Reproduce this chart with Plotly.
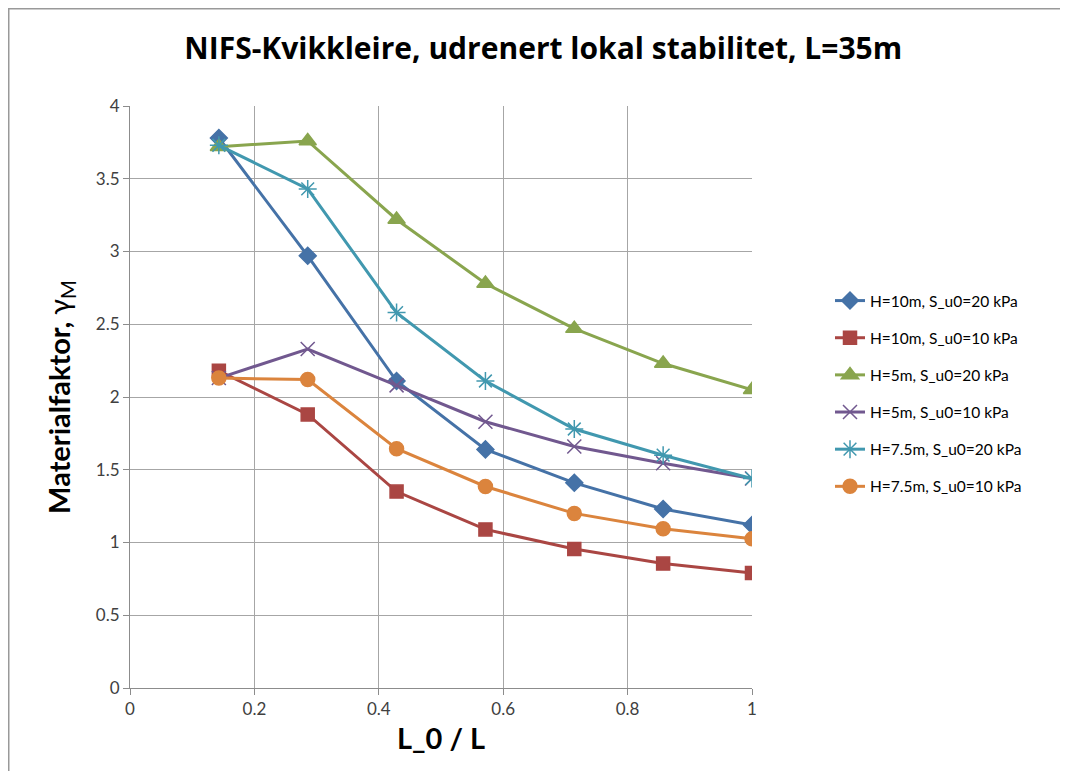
import plotly.graph_objects as go

x_vals = [1/7, 2/7, 3/7, 4/7, 5/7, 6/7, 1.0]

names = [
    "H=10m, S_u0=20 kPa",
    "H=10m, S_u0=10 kPa",
    "H=5m, S_u0=20 kPa",
    "H=5m, S_u0=10 kPa",
    "H=7.5m, S_u0=20 kPa",
    "H=7.5m, S_u0=10 kPa",
]

h10_s20 = [3.78, 2.97, 2.11, 1.64, 1.41, 1.23, 1.12]
h10_s10 = [2.18, 1.88, 1.35, 1.09, 0.955, 0.855, 0.79]
h5_s20 = [3.72, 3.76, 3.22, 2.78, 2.47, 2.23, 2.05]
h5_s10 = [2.13, 2.33, 2.08, 1.83, 1.66, 1.545, 1.44]
h75_s20 = [3.73, 3.43, 2.58, 2.11, 1.78, 1.60, 1.44]
h75_s10 = [2.13, 2.12, 1.645, 1.385, 1.20, 1.095, 1.025]

series = [h10_s20, h10_s10, h5_s20, h5_s10, h75_s20, h75_s10]
colors = ["#4572A7", "#AA4643", "#89A54E", "#71588F", "#4198AF", "#DB843D"]
symbols = ["diamond", "square", "triangle-up", "x-thin-open", "asterisk-open", "circle"]
sizes = [13, 13, 15, 14, 15, 14]

fig = go.Figure()
for i, (nm, ys) in enumerate(zip(names, series)):
    fig.add_trace(go.Scatter(
        x=x_vals, y=ys, name=nm, mode="lines+markers",
        legendgroup=str(i),
        line=dict(color=colors[i], width=3),
        marker=dict(symbol=symbols[i], size=sizes[i], color=colors[i],
                    line=dict(color=colors[i], width=1.5)),
    ))

font_family = "Lato, 'Open Sans', sans-serif"

# page body has an 8px margin, so the figure is sized/offset to compensate
L, T, PW, PH = 122, 98, 622, 582
W, H = 1060, 763

fig.update_layout(
    width=W, height=H,
    paper_bgcolor="white", plot_bgcolor="white",
    margin=dict(l=L, r=W - L - PW, t=T, b=H - T - PH),
    font=dict(family=font_family, color="#404040", size=14),
    title=dict(text="<b>NIFS-Kvikkleire, udrenert lokal stabilitet, L=35m</b>",
               x=0.505, xanchor="center", y=(H - 40) / H, yanchor="middle",
               font=dict(size=30, color="black", family="'Open Sans', sans-serif")),
    xaxis=dict(range=[0, 1], dtick=0.2, showgrid=True, gridcolor="#a6a6a6", gridwidth=1,
               showline=True, linecolor="#8c8c8c", linewidth=1, ticks="outside",
               ticklen=6, tickcolor="#8c8c8c", zeroline=False,
               tickfont=dict(size=17, color="#404040"),
               title=dict(text="<b>L_0 / L</b>", font=dict(size=29, color="black"), standoff=10)),
    yaxis=dict(range=[0, 4], dtick=0.5, showgrid=True, gridcolor="#a6a6a6", gridwidth=1,
               showline=True, linecolor="#8c8c8c", linewidth=1, ticks="outside",
               ticklen=6, tickcolor="#8c8c8c", zeroline=False,
               tickfont=dict(size=17, color="#404040"),
               title=dict(text="<b>Materialfaktor, </b>γ<sub>M</sub>", font=dict(size=29, color="black"),
                          standoff=16)),
    legend=dict(x=(822 - L) / PW, xanchor="left", y=(T + PH - 276) / PH, yanchor="top",
                font=dict(size=15.5, color="black"), traceorder="grouped",
                tracegroupgap=14, bgcolor="rgba(0,0,0,0)"),
    showlegend=True,
)

# outer chart frame (left and top edges visible)
fig.add_shape(type="rect", xref="paper", yref="paper",
              x0=(0 - L) / PW, x1=1.6, y0=-0.5, y1=(T + PH - 0) / PH,
              line=dict(color="#999999", width=3), fillcolor="rgba(0,0,0,0)")

fig.write_html("out.html")
